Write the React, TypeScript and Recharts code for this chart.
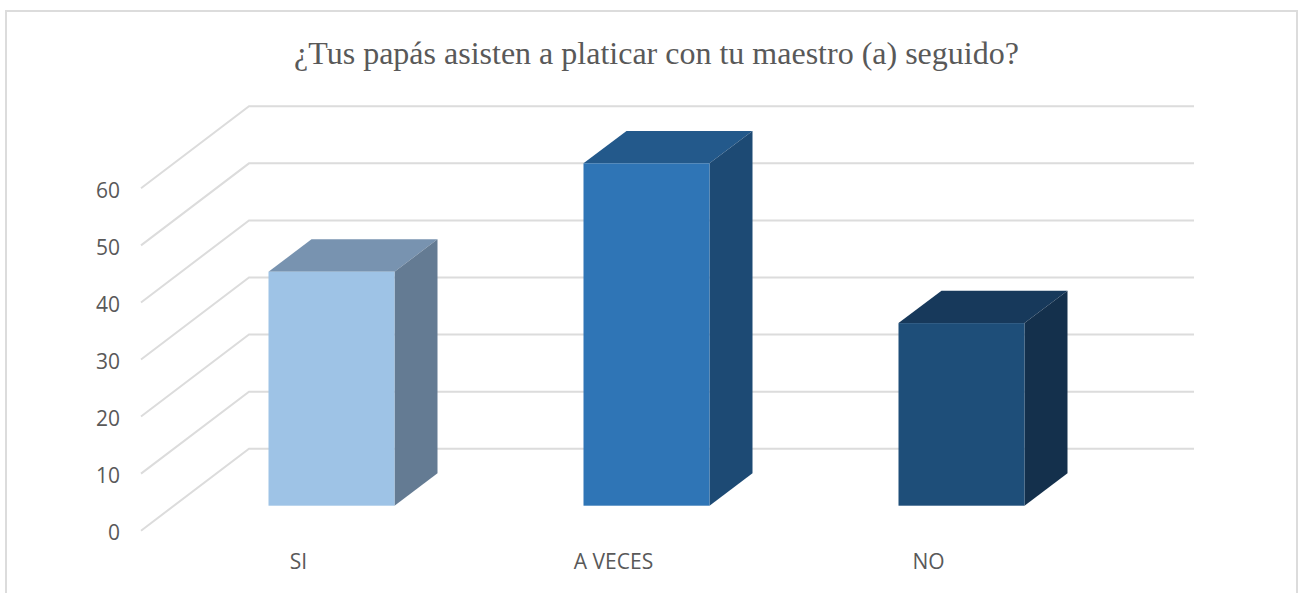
import { Bar, BarChart, CartesianGrid, XAxis, YAxis } from "recharts";

const categories = ["SI", "A VECES", "NO"];
const values = [41, 60, 32];
const yTicks = [0, 10, 20, 30, 40, 50, 60];

const faceColors = ["#9ec3e6", "#2f75b6", "#1e4e79"];
const topColors = ["#7893b0", "#23598b", "#17395b"];
const sideColors = ["#647b93", "#1d4a74", "#14304c"];

const data = categories.map((name, i) => ({ name, value: values[i] }));

const gridColor = "#dcdcdc";
const textColor = "#595959";
const labelFont = "'Open Sans', sans-serif";

// how far the back wall sits from the axis plane
const wallDx = 108;
const wallDy = 82;
// bar front face relative to the axis plane, and the bar's own depth
const barDx = 33;
const barDy = 25;
const depthX = 43;
const depthY = 32.4;

function GridLine(props: any) {
  const { x1, x2, y1 } = props;
  const backY = y1 - wallDy;
  return (
    <path
      d={`M${x1} ${y1}L${x1 + wallDx} ${backY}L${x2 + wallDx} ${backY}`}
      fill="none"
      stroke={gridColor}
      strokeWidth={2}
    />
  );
}

function Box3D(props: any) {
  const { x, y, width, height, index } = props;
  const left = x + barDx;
  const right = left + width;
  const top = y - barDy;
  const bottom = top + height;
  return (
    <g>
      <path
        d={`M${left} ${top}L${left + depthX} ${top - depthY}L${right + depthX} ${top - depthY}L${right} ${top}Z`}
        fill={topColors[index]}
      />
      <path
        d={`M${right} ${top}L${right + depthX} ${top - depthY}L${right + depthX} ${bottom - depthY}L${right} ${bottom}Z`}
        fill={sideColors[index]}
      />
      <rect x={left} y={top} width={width} height={height} fill={faceColors[index]} />
    </g>
  );
}

export default function App() {
  return (
    <div style={{ position: "absolute", left: 0, top: 0, width: 1307, height: 593, background: "#fff", overflow: "hidden" }}>
      <div
        style={{
          position: "absolute",
          left: 5,
          top: 10,
          width: 1289,
          height: 600,
          border: `2px solid ${gridColor}`,
        }}
      />
      <div
        style={{
          position: "absolute",
          left: 0,
          top: 33,
          width: 1313,
          textAlign: "center",
          fontFamily: "'Liberation Serif', serif",
          fontSize: 32,
          lineHeight: "40px",
          color: textColor,
        }}
      >
        ¿Tus papás asisten a platicar con tu maestro (a) seguido?
      </div>
      <BarChart
        width={1307}
        height={593}
        data={data}
        margin={{ top: 188.3, right: 221, bottom: 0, left: 100 }}
        barCategoryGap="30%"
        style={{ position: "absolute", left: 0, top: 0 }}
      >
        <CartesianGrid vertical={false} horizontal={GridLine} />
        <XAxis
          dataKey="name"
          height={62.3}
          axisLine={false}
          tickLine={false}
          tickSize={0}
          tickMargin={23}
          tick={{ fill: textColor, fontSize: 21, fontFamily: labelFont }}
        />
        <YAxis
          width={41}
          domain={[0, 60]}
          ticks={yTicks}
          axisLine={false}
          tickLine={false}
          tickSize={0}
          tickMargin={21}
          tick={{ fill: textColor, fontSize: 21, fontFamily: labelFont, dy: 2 }}
        />
        <Bar dataKey="value" shape={Box3D} isAnimationActive={false} />
      </BarChart>
    </div>
  );
}
